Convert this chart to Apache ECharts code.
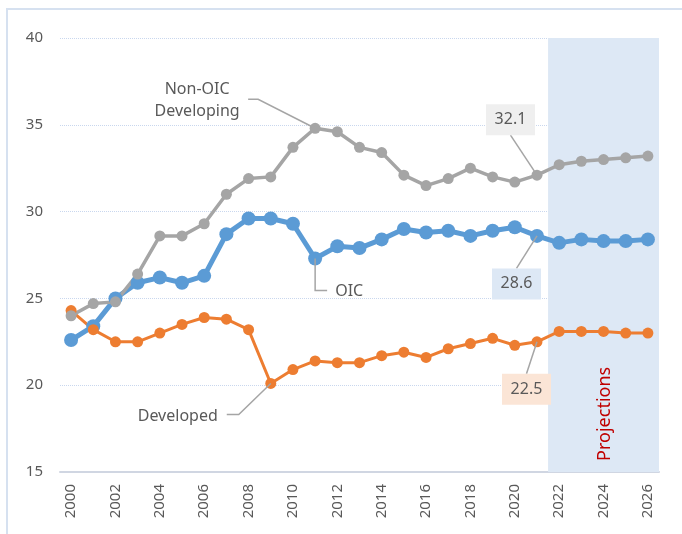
<!DOCTYPE html>
<html>
<head>
<meta charset="utf-8">
<script src="https://cdn.jsdelivr.net/npm/echarts@6/dist/echarts.min.js"></script>
<style>
html, body { margin: 0; padding: 0; background: #fff; }
#main { width: 682px; height: 534px; }
</style>
</head>
<body>
<div id="main"></div>
<script>
var years = ['2000', '2001', '2002', '2003', '2004', '2005', '2006', '2007', '2008', '2009',
    '2010', '2011', '2012', '2013', '2014', '2015', '2016', '2017', '2018', '2019',
    '2020', '2021', '2022', '2023', '2024', '2025', '2026'];
var oic = [22.6, 23.4, 25.0, 25.9, 26.2, 25.9, 26.3, 28.7, 29.6, 29.6,
    29.3, 27.3, 28.0, 27.9, 28.4, 29.0, 28.8, 28.9, 28.6, 28.9,
    29.1, 28.6, 28.2, 28.4, 28.3, 28.3, 28.4];
var developed = [24.3, 23.2, 22.5, 22.5, 23.0, 23.5, 23.9, 23.8, 23.2, 20.1,
    20.9, 21.4, 21.3, 21.3, 21.7, 21.9, 21.6, 22.1, 22.4, 22.7,
    22.3, 22.5, 23.1, 23.1, 23.1, 23.0, 23.0];
var nonOic = [24.0, 24.7, 24.8, 26.4, 28.6, 28.6, 29.3, 31.0, 31.9, 32.0,
    33.7, 34.8, 34.6, 33.7, 33.4, 32.1, 31.5, 31.9, 32.5, 32.0,
    31.7, 32.1, 32.7, 32.9, 33.0, 33.1, 33.2];
var yMin = 15, yMax = 40, yStep = 5;
var projectionStart = '2022';
var valueYear = '2021';

var FONT = '"Noto Sans", "Open Sans", sans-serif';
var TXT = '#595959';
var LEAD = '#a5a5a5';

var chart = echarts.init(document.getElementById('main'));

var bandStart = years.indexOf(projectionStart) - 0.5;
var bandEnd = years.length - 0.5;

chart.setOption({
    animation: false,
    backgroundColor: '#ffffff',
    grid: { left: 60, right: 23, top: 38, bottom: 62 },
    xAxis: [{
        type: 'category',
        data: years,
        boundaryGap: true,
        axisTick: { show: false },
        axisLine: { lineStyle: { color: '#d0d6e2', width: 2 } },
        axisLabel: {
            rotate: 90, interval: 1, margin: 12,
            color: TXT, fontSize: 15, fontFamily: FONT
        },
        splitLine: { show: false }
    }, {
        // hidden helper axis for the projections band
        type: 'value', show: false,
        min: -0.5, max: years.length - 0.5
    }],
    yAxis: {
        type: 'value',
        min: yMin, max: yMax, interval: yStep,
        axisLine: { show: false },
        axisTick: { show: false },
        axisLabel: { margin: 17, color: TXT, fontSize: 15, fontFamily: FONT },
        splitLine: { lineStyle: { color: '#c9d7ee', type: 'dotted', width: 1 } }
    },
    series: [{
        type: 'line',
        xAxisIndex: 1,
        data: [],
        silent: true,
        z: 1,
        markArea: {
            silent: true,
            itemStyle: { color: '#dde8f5' },
            data: [[{ xAxis: bandStart }, { xAxis: bandEnd }]]
        }
    }, {
        name: 'OIC',
        type: 'line',
        data: oic,
        symbol: 'circle',
        symbolSize: 14,
        lineStyle: { color: '#5b9bd5', width: 5 },
        itemStyle: { color: '#5b9bd5' }
    }, {
        name: 'Developed',
        type: 'line',
        data: developed,
        symbol: 'circle',
        symbolSize: 11,
        lineStyle: { color: '#ed7d31', width: 3 },
        itemStyle: { color: '#ed7d31' }
    }, {
        name: 'Non-OIC Developing',
        type: 'line',
        data: nonOic,
        symbol: 'circle',
        symbolSize: 11,
        lineStyle: { color: '#a5a5a5', width: 3.5 },
        itemStyle: { color: '#a5a5a5' }
    }]
});

// annotation helpers, anchored to data points through the axes
function pt(values, year) {
    var i = years.indexOf(year);
    return chart.convertToPixel({ gridIndex: 0 }, [i, values[i]]);
}
function leader(points) {
    return {
        type: 'polyline', silent: true, z: 10,
        shape: { points: points },
        style: { stroke: LEAD, lineWidth: 1.5, fill: null }
    };
}
function text(x, y, str, align, opts) {
    opts = opts || {};
    return {
        type: 'text', silent: true, z: 11, x: x, y: y,
        rotation: opts.rotation || 0,
        style: {
            text: str, fill: opts.color || TXT,
            fontSize: opts.size || 16, fontFamily: FONT,
            lineHeight: 22,
            align: align, textAlign: align,
            verticalAlign: 'middle', textVerticalAlign: 'middle'
        }
    };
}
function valueBox(p, dx, dy, anchorDy, str, bg) {
    var cx = p[0] + dx, cy = p[1] + dy;
    return [
        leader([[cx, cy + anchorDy], p]),
        {
            type: 'rect', silent: true, z: 10,
            shape: { x: cx - 24.5, y: cy - 15.5, width: 49, height: 31 },
            style: { fill: bg }
        },
        text(cx, cy, str, 'center')
    ];
}

var g = [];
g.push({
    type: 'rect', silent: true, z: 0,
    shape: { x: 7, y: 9, width: 720, height: 600 },
    style: { fill: null, stroke: '#d6e1f0', lineWidth: 2 }
});

var pNon = pt(nonOic, '2011');
g.push(leader([[pNon[0] - 67, pNon[1] - 29], [pNon[0] - 57, pNon[1] - 29], pNon]));
g.push(text(pNon[0] - 118, pNon[1] - 28, 'Non-OIC\nDeveloping', 'center'));

var pOic = pt(oic, '2011');
g.push(leader([pOic, [pOic[0], pOic[1] + 32], [pOic[0] + 12, pOic[1] + 32]]));
g.push(text(pOic[0] + 20, pOic[1] + 33, 'OIC', 'left'));

var pDev = pt(developed, '2009');
g.push(leader([[pDev[0] - 44, pDev[1] + 31], [pDev[0] - 32, pDev[1] + 31], pDev]));
g.push(text(pDev[0] - 53, pDev[1] + 33, 'Developed', 'right'));

var vi = years.indexOf(valueYear);
g = g.concat(valueBox(pt(nonOic, valueYear), -26.5, -55.5, 15.5, nonOic[vi].toFixed(1), '#efefef'));
g = g.concat(valueBox(pt(oic, valueYear), -20.5, 48, -15.5, oic[vi].toFixed(1), '#dde8f5'));
g = g.concat(valueBox(pt(developed, valueYear), -10.5, 47.5, -15.5, developed[vi].toFixed(1), '#fbe5d6'));

var projX = chart.convertToPixel({ xAxisIndex: 1 }, years.indexOf('2024') + 0.07);
var projY = chart.convertToPixel({ yAxisIndex: 0 }, 18.35);
g.push(text(projX, projY, 'Projections', 'center', { rotation: Math.PI / 2, color: '#c00000', size: 18 }));

chart.setOption({ graphic: g });
</script>
</body>
</html>
